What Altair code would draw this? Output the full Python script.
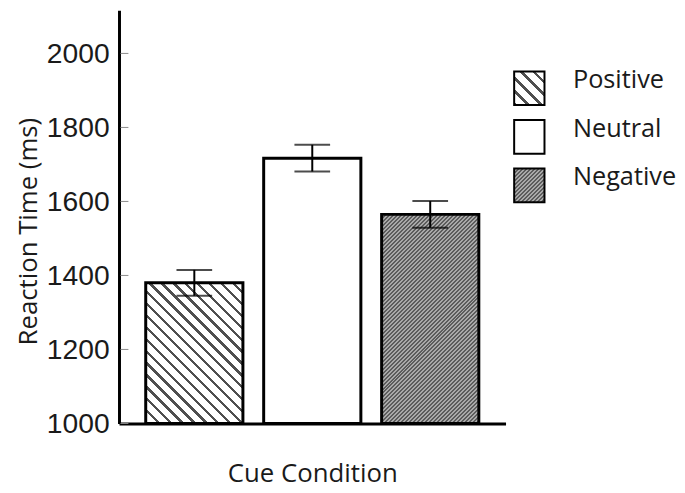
import altair as alt
import pandas as pd

# ---------------- data ----------------
categories = ["Positive", "Neutral", "Negative"]
means = [1380, 1717, 1565]
errors = [35, 36, 36]
y_ticks = [1000, 1200, 1400, 1600, 1800, 2000]

df = pd.DataFrame({
    "cond": categories,
    "rt": means,
    "lo": [m - e for m, e in zip(means, errors)],
    "hi": [m + e for m, e in zip(means, errors)],
})
ticks_df = pd.DataFrame({"tick": y_ticks})

# ---------------- layout / style ----------------
PLOT_W, PLOT_H = 390, 417
Y_MIN, Y_MAX = 1000, 2117
P_IN, P_OUT = 0.176, 0.2265
step = PLOT_W / (len(categories) - P_IN + 2 * P_OUT)
bar_w = step * (1 - P_IN)
px_per_unit = PLOT_H / (Y_MAX - Y_MIN)
TEXT = "#1a1a1a"
SW_PATH = "M-0.9,-1L0.9,-1L0.9,1L-0.9,1Z"
SW_H = 34
SW_W = 0.9 * SW_H


def stripe_stops(n, dark, light, frac):
    stops = []
    for i in range(n):
        a = i / n
        b = min(1.0, (i + frac) / n)
        c = min(1.0, (i + 1) / n)
        stops += [
            alt.GradientStop(color=dark, offset=a),
            alt.GradientStop(color=dark, offset=b),
            alt.GradientStop(color=light, offset=b),
            alt.GradientStop(color=light, offset=c),
        ]
    return stops


def hatch(w, h, kind, period, dark, light, frac):
    """Diagonal stripes at 45 degrees in pixel space for a w x h box."""
    k = (w + h) / (w * w + h * h)
    n = max(1, round((w + h) / period))
    if kind == "back":  # "\" stripes
        coords = dict(x1=0, y1=1, x2=w * k, y2=1 - h * k)
    else:  # "/" stripes
        coords = dict(x1=0, y1=0, x2=w * k, y2=h * k)
    return alt.LinearGradient(gradient="linear",
                              stops=stripe_stops(n, dark, light, frac), **coords)


def fill_for(cat, w, h):
    if cat == "Positive":
        return hatch(w, h, "back", 12, "#4f4f4f", "#ffffff", 0.28)
    if cat == "Negative":
        return hatch(w, h, "fwd", 4, "#5c5c5c", "#a9a9a9", 0.5)
    return "#ffffff"


# ---------------- encodings ----------------
x_enc = alt.X(
    "cond:N", sort=categories,
    scale=alt.Scale(domain=categories, paddingInner=P_IN, paddingOuter=P_OUT),
    axis=alt.Axis(title="Cue Condition", labels=False, ticks=False, tickSize=0,
                  labelPadding=0, domainColor="black", domainWidth=3,
                  titleFont="Open Sans", titleFontSize=26, titleFontWeight="normal",
                  titleColor=TEXT, titlePadding=38, grid=False),
)
y_scale = alt.Scale(domain=[Y_MIN, Y_MAX], nice=False, zero=False)
left_axis = alt.Axis(values=y_ticks, format="d", ticks=False, tickSize=0, labelPadding=10,
                     labelFont="Liberation Sans", labelFontSize=28.5, labelColor=TEXT,
                     domainColor="black", domainWidth=3, grid=False,
                     title="Reaction Time (ms)", titleFont="Open Sans",
                     titleFontSize=26, titleFontWeight="normal", titleColor=TEXT,
                     titleX=-78.5, titleY=223)

base = alt.Chart(df)

bars = []
for i, cat in enumerate(categories):
    h = (means[i] - Y_MIN) * px_per_unit
    bars.append(
        base.transform_filter(alt.datum.cond == cat)
        .mark_bar(fill=fill_for(cat, bar_w, h), stroke="black", strokeWidth=3, opacity=1)
        .encode(
            x=x_enc,
            y=alt.Y("rt:Q", scale=y_scale, axis=left_axis if i == 0 else None),
            y2=alt.Y2(datum=Y_MIN),
        )
    )

# short inward tick marks on the y axis
inner_ticks = alt.Chart(ticks_df).mark_rule(color="#8c8c8c", strokeWidth=1).encode(
    y=alt.Y("tick:Q", scale=y_scale, axis=None),
    x=alt.value(1.5), x2=alt.value(9.5))

rule = base.mark_rule(color="black", strokeWidth=2).encode(
    x=x_enc, y=alt.Y("lo:Q", scale=y_scale, axis=None), y2="hi:Q")
cap_lo = base.mark_tick(color="black", thickness=2, size=36, orient="horizontal").encode(
    x=x_enc, y=alt.Y("lo:Q", scale=y_scale, axis=None))
cap_hi = base.mark_tick(color="black", thickness=2, size=36, orient="horizontal").encode(
    x=x_enc, y=alt.Y("hi:Q", scale=y_scale, axis=None))

main = alt.layer(*bars, inner_ticks, rule, cap_lo, cap_hi).resolve_axis(
    y="independent").properties(width=PLOT_W, height=PLOT_H)

# ---------------- legend panel ----------------
LEG_SHIFT = 29.8
leg_y = alt.Y("cond:N", sort=categories,
              scale=alt.Scale(type="point", domain=categories, padding=1), axis=None)
swatches = []
for cat in categories:
    swatches.append(
        base.transform_filter(alt.datum.cond == cat)
        .mark_point(shape=SW_PATH, size=SW_H ** 2, filled=True,
                    fill=fill_for(cat, SW_W, SW_H), stroke="black", strokeWidth=2,
                    opacity=1, yOffset=LEG_SHIFT)
        .encode(y=leg_y, x=alt.value(17))
    )
labels = base.mark_text(align="left", baseline="alphabetic", font="Open Sans",
                        fontSize=25.5, color=TEXT, yOffset=LEG_SHIFT).encode(
    y=leg_y, x=alt.value(61), text="cond:N")
legend = alt.layer(*swatches, labels).properties(width=100, height=196)

chart = (
    alt.hconcat(main, legend, spacing=4)
    .configure_view(stroke=None)
    .properties(padding={"left": 7, "top": 0, "right": 0, "bottom": 2})
)

chart.save("out.html", embed_options={"renderer": "svg", "actions": False})
